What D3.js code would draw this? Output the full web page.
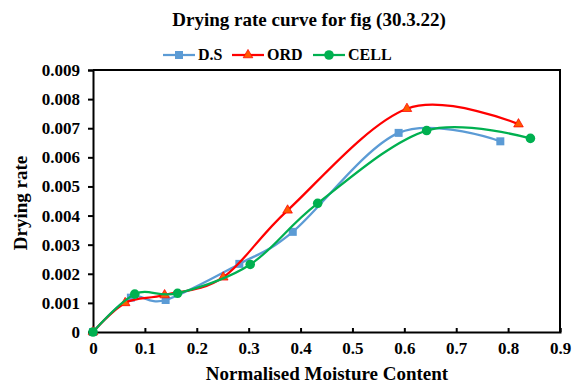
<!DOCTYPE html>
<html>
<head>
<meta charset="utf-8">
<script src="https://cdn.jsdelivr.net/npm/d3@7"></script>
<style>
  body { margin: 0; background: #fff; }
  svg text { font-family: "Liberation Serif", "Times New Roman", Times, serif; font-weight: bold; }
</style>
</head>
<body>
<svg id="root" width="575" height="385"></svg>
<script>
// values
const dsX = [0, 0.073, 0.14, 0.282, 0.385, 0.589, 0.785];
const dsY = [0, 0.00118, 0.0011, 0.00234, 0.00344, 0.00684, 0.00655];
const ordX = [0, 0.062, 0.138, 0.251, 0.375, 0.605, 0.82];
const ordY = [0, 0.001, 0.00127, 0.00188, 0.00418, 0.00767, 0.00714];
const cellX = [0, 0.0805, 0.163, 0.303, 0.433, 0.643, 0.843];
const cellY = [0, 0.0013, 0.00133, 0.00232, 0.00442, 0.00692, 0.00665];
const xTicks = [0, 0.1, 0.2, 0.3, 0.4, 0.5, 0.6, 0.7, 0.8, 0.9];
const yTicks = [0, 0.001, 0.002, 0.003, 0.004, 0.005, 0.006, 0.007, 0.008, 0.009];

const series = [
  { name: 'D.S', xs: dsX, ys: dsY, color: '#5B9BD5', marker: 'square' },
  { name: 'ORD', xs: ordX, ys: ordY, color: '#FF0000', marker: 'triangle' },
  { name: 'CELL', xs: cellX, ys: cellY, color: '#00B050', marker: 'circle' }
];

const FONT = '"Liberation Serif", "Times New Roman", Times, serif';

const margin = { top: 70, right: 15, bottom: 53, left: 93 };
const width = 575 - margin.left - margin.right;
const height = 385 - margin.top - margin.bottom;

const x = d3.scaleLinear().domain([0, 0.9]).range([0, width]);
const y = d3.scaleLinear().domain([0, 0.009]).range([height, 0]);

const svg = d3.select('#root');
const chart = svg.append('g')
  .attr('transform', `translate(${margin.left}, ${margin.top})`);

// frame (top and right)
chart.append('path')
  .attr('d', `M0,0H${width}V${height}`)
  .attr('fill', 'none')
  .attr('stroke', '#000')
  .attr('stroke-width', 2);

const axisX = d3.axisBottom(x).tickValues(xTicks).tickSize(-4).tickPadding(10)
  .tickFormat(d => d === 0 ? '0' : d3.format('.1f')(d));
const axisY = d3.axisLeft(y).tickValues(yTicks).tickSize(5).tickPadding(8)
  .tickFormat(d => d === 0 ? '0' : d3.format('.3f')(d));

const gx = chart.append('g')
  .attr('transform', `translate(0, ${height})`)
  .call(axisX);
const gy = chart.append('g').call(axisY);

[gx, gy].forEach(g => {
  g.attr('font-family', null).attr('font-size', null);
  g.select('.domain').attr('stroke', '#000').attr('stroke-width', 2);
  g.selectAll('.tick line').attr('stroke', '#000').attr('stroke-width', 2);
  g.selectAll('.tick text')
    .attr('fill', '#000')
    .style('font-size', '17px')
    .style('font-family', FONT)
    .style('font-weight', 'bold');
});
gx.selectAll('.tick text').attr('dy', '0.72em');

const line = d3.line()
  .x(d => x(d[0]))
  .y(d => y(d[1]))
  .curve(d3.curveCardinal.tension(0));

const symbolOf = {
  square: d3.symbol().type(d3.symbolSquare).size(64),
  triangle: d3.symbol().type(d3.symbolTriangle).size(40),
  circle: d3.symbol().type(d3.symbolCircle).size(72)
};

function markerFill(s) {
  return s.marker === 'triangle' ? '#FF5A00' : s.color;
}

series.forEach(s => {
  const pts = s.xs.map((v, i) => [v, s.ys[i]]);
  chart.append('path')
    .datum(pts)
    .attr('fill', 'none')
    .attr('stroke', s.color)
    .attr('stroke-width', 2.25)
    .attr('d', line);
  chart.selectAll(null)
    .data(pts)
    .enter()
    .append('path')
    .attr('transform', d => `translate(${x(d[0])}, ${y(d[1])})`)
    .attr('d', symbolOf[s.marker]())
    .attr('fill', markerFill(s))
    .attr('stroke', s.marker === 'triangle' ? '#FF0000' : 'none')
    .attr('stroke-width', 0.75);
});

// title
svg.append('text')
  .attr('x', 309)
  .attr('y', 26)
  .attr('text-anchor', 'middle')
  .style('font-size', '19px')
  .text('Drying rate curve for fig (30.3.22)');

// legend
const legendX = [163, 232, 313];
const legend = svg.append('g');
series.forEach((s, i) => {
  const g = legend.append('g').attr('transform', `translate(${legendX[i]}, 55)`);
  g.append('line')
    .attr('x1', 0).attr('x2', 32)
    .attr('stroke', s.color).attr('stroke-width', 2.25);
  g.append('path')
    .attr('transform', 'translate(16, 0)')
    .attr('d', symbolOf[s.marker]())
    .attr('fill', markerFill(s))
    .attr('stroke', s.marker === 'triangle' ? '#FF0000' : 'none')
    .attr('stroke-width', 0.75);
  g.append('text')
    .attr('x', 35)
    .attr('y', 5)
    .style('font-size', '16px')
    .text(s.name);
});

// axis titles
svg.append('text')
  .attr('x', 327)
  .attr('y', 380)
  .attr('text-anchor', 'middle')
  .style('font-size', '19px')
  .text('Normalised Moisture Content');

svg.append('text')
  .attr('transform', `translate(27, 203) rotate(-90)`)
  .attr('text-anchor', 'middle')
  .style('font-size', '19px')
  .text('Drying rate');
</script>
</body>
</html>
